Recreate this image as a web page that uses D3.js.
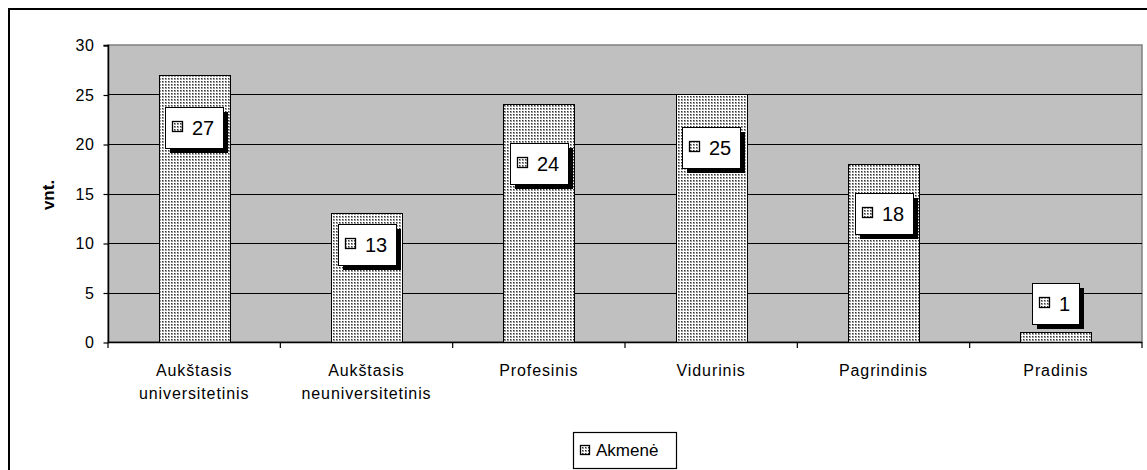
<!DOCTYPE html>
<html><head><meta charset="utf-8">
<script src="https://cdn.jsdelivr.net/npm/d3@7"></script>
<style>body{margin:0;background:#fff}svg{display:block;font-family:Arial,"Liberation Sans",sans-serif}</style>
</head><body>
<svg id="c" width="1147" height="470"></svg>
<script>
const categories = [["Aukštasis","universitetinis"],["Aukštasis","neuniversitetinis"],["Profesinis"],["Vidurinis"],["Pagrindinis"],["Pradinis"]];
const values = [27, 13, 24, 25, 18, 1];
const yTicks = [0, 5, 10, 15, 20, 25, 30];
const seriesName = "Akmenė";
const axisTitle = "vnt.";

// layout (label box top offsets relative to the bar top, px)
const labelShift = [32, 11, 39, 33, 29, -49];

const svg = d3.select("#c");
const defs = svg.append("defs");
const pat = defs.append("pattern").attr("id","dots").attr("patternUnits","userSpaceOnUse")
  .attr("width",3).attr("height",3);
pat.append("rect").attr("width",3).attr("height",3).attr("fill","#fff");
pat.append("rect").attr("x",0).attr("y",0).attr("width",2).attr("height",2).attr("fill","#9a9a9a");
pat.append("rect").attr("x",0).attr("y",0).attr("width",1).attr("height",1).attr("fill","#333");

// outer frame
svg.append("rect").attr("x",9).attr("y",9).attr("width",1160).attr("height",480)
  .attr("fill","#fff").attr("stroke","#000").attr("stroke-width",2);

const L = 108, R = 1142, T = 45, B = 342;
const x = d3.scaleBand().domain(d3.range(categories.length)).range([L, R])
  .paddingInner(0.588).paddingOuter(0.294);
const y = d3.scaleLinear().domain([0, 30]).range([B, T]);

// plot area
svg.append("rect").attr("x",L).attr("y",T).attr("width",R-L).attr("height",B-T)
  .attr("fill","#c0c0c0").attr("stroke","#808080").attr("stroke-width",1.5);

// gridlines
svg.append("g").selectAll("line").data(yTicks.filter(d=>d>0 && d<30)).join("line")
  .attr("x1",L).attr("x2",R).attr("y1",d=>Math.round(y(d))+0.5).attr("y2",d=>Math.round(y(d))+0.5)
  .attr("stroke","#000").attr("stroke-width",1);

// bars
svg.append("g").selectAll("rect").data(values).join("rect")
  .attr("x",(d,i)=>Math.round(x(i))+0.5).attr("y",d=>Math.round(y(d))+0.5)
  .attr("width",Math.round(x.bandwidth())).attr("height",d=>Math.round(y(0))-Math.round(y(d)))
  .attr("fill","url(#dots)").attr("stroke","#000").attr("stroke-width",1);

// y axis
const yAxis = d3.axisLeft(y).tickValues(yTicks).tickSize(5).tickPadding(9);
const gy = svg.append("g").attr("transform",`translate(${L+0.5},0.5)`).call(yAxis);
gy.select(".domain").attr("stroke","#000").attr("stroke-width",1.5).attr("d",`M-5,${T}H0V${B}`);
gy.selectAll(".tick line").attr("stroke","#000").attr("stroke-width",1.2);
gy.selectAll(".tick text").attr("font-size",16).attr("fill","#000").attr("letter-spacing","0.6px")
  .attr("font-family","Arial, 'Liberation Sans', sans-serif");

// x axis
svg.append("line").attr("x1",L).attr("x2",R).attr("y1",B+0.5).attr("y2",B+0.5)
  .attr("stroke","#000").attr("stroke-width",1.5);
const bounds = d3.range(categories.length+1).map(i=> L + i*x.step());
svg.append("g").selectAll("line").data(bounds).join("line")
  .attr("x1",d=>d).attr("x2",d=>d).attr("y1",B).attr("y2",B+6)
  .attr("stroke","#000").attr("stroke-width",1.2);

// category labels
const cl = svg.append("g").selectAll("text").data(categories).join("text")
  .attr("text-anchor","middle").attr("font-size",16).attr("letter-spacing","0.9px").attr("fill","#000");
cl.each(function(lines,i){
  const t = d3.select(this);
  lines.forEach((ln,k)=>{
    t.append("tspan").attr("x", x(i)+x.bandwidth()/2).attr("y", 376 + k*23).text(ln);
  });
});

// y-axis title
svg.append("text").attr("transform",`translate(54,195) rotate(-90)`).attr("text-anchor","middle")
  .attr("font-size",17).attr("font-weight","bold").text(axisTitle);

// data labels
const lg = svg.append("g").selectAll("g").data(values).join("g");
lg.each(function(d,i){
  const g = d3.select(this);
  const txt = g.append("text").attr("font-size",20).attr("fill","#000").text(d);
  const tw = txt.node().getComputedTextLength();
  const w = Math.round(27 + tw + 9), h = 41;
  const cx = x(i)+x.bandwidth()/2;
  const left = Math.round(cx - w/2), top = Math.round(y(d)) + labelShift[i];
  g.insert("rect","text").attr("x",left+5).attr("y",top+5).attr("width",w).attr("height",h).attr("fill","#000");
  g.insert("rect","text").attr("x",left+0.5).attr("y",top+0.5).attr("width",w).attr("height",h)
    .attr("fill","#fff").attr("stroke","#000").attr("stroke-width",1);
  g.append("rect").attr("x",left+7.5).attr("y",top+14.5).attr("width",10).attr("height",10)
    .attr("fill","url(#dots)").attr("stroke","#000").attr("stroke-width",1.3);
  txt.attr("x",left+27).attr("y",top+28);
});

// legend
const leg = svg.append("g");
leg.append("rect").attr("x",573.5).attr("y",432.5).attr("width",103).attr("height",36)
  .attr("fill","#fff").attr("stroke","#000").attr("stroke-width",1.2);
leg.append("rect").attr("x",580.5).attr("y",445.5).attr("width",9).attr("height",9)
  .attr("fill","url(#dots)").attr("stroke","#000").attr("stroke-width",1.3);
leg.append("text").attr("x",596).attr("y",456).attr("font-size",17).attr("fill","#000").text(seriesName);
</script>
</body></html>
